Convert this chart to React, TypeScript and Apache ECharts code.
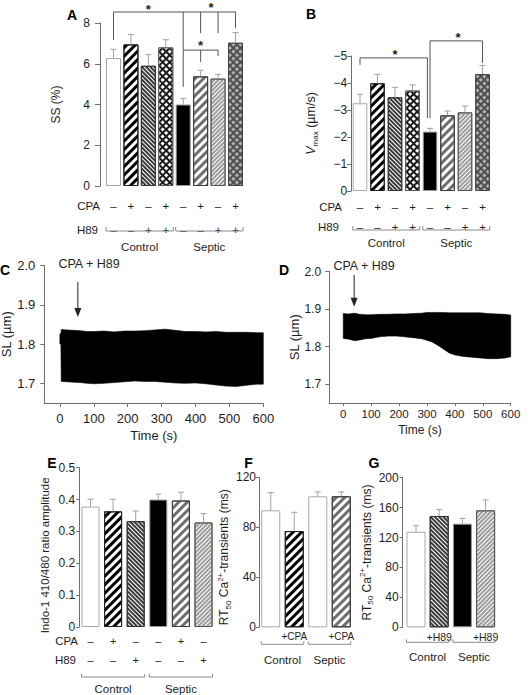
import React, { useEffect, useRef } from "react";
import * as echarts from "echarts";

const FONT = '"Liberation Sans", Arial, Helvetica, sans-serif';
const AXIS_C = "#6e6e6e";
const TEXT_C = "#1e1e1e";
const ERR_C = "#a0a0a0";
const SIG_C = "#555555";

// ================= DATA =================
const barIdsAB = ["Ctl", "Ctl+CPA", "Ctl+H89", "Ctl+CPA+H89", "Sep", "Sep+CPA", "Sep+H89", "Sep+CPA+H89"];
const cpaRowAB = ["–", "+", "–", "+", "–", "+", "–", "+"];
const h89RowAB = ["–", "–", "+", "+", "–", "–", "+", "+"];
const groupLabels = ["Control", "Septic"];
const ssMean = [6.28, 6.95, 5.9, 6.8, 4.0, 5.38, 5.27, 7.03];
const ssSem = [0.43, 0.48, 0.55, 0.38, 0.3, 0.3, 0.21, 0.5];
const vmaxMean = [-3.25, -3.99, -3.47, -3.72, -2.2, -2.8, -2.91, -4.33];
const vmaxSem = [0.33, 0.33, 0.37, 0.21, 0.12, 0.16, 0.24, 0.32];

const sigLinesA = [
  [[0, 7.17], [0, 8.54], [4, 8.54], [4, 4.86]],
  [[4, 8.54], [7, 8.54], [7, 7.75]],
  [[5, 8.54], [5, 7.5]],
  [[6, 8.54], [6, 7.5]],
  [[4, 6.67], [6, 6.67], [6, 6.38]],
  [[5, 6.67], [5, 6.08]],
];
const sigStarsA = [[2, 8.64], [5.6, 8.74], [5, 6.92]];
const sigLinesB = [
  [[0, -4.67], [0, -4.93], [3.85, -4.93], [3.85, -2.7]],
  [[4, -2.7], [4, -5.56], [7, -5.56], [7, -4.74]],
];
const sigStarsB = [[2, -5.04], [5.6, -5.67]];

const barIdsE = ["Ctl", "Ctl+CPA", "Ctl+H89", "Sep", "Sep+CPA", "Sep+H89"];
const cpaRowE = ["–", "+", "–", "–", "+", "–"];
const h89RowE = ["–", "–", "+", "–", "–", "+"];
const indoMean = [0.378, 0.363, 0.332, 0.4, 0.397, 0.328];
const indoSem = [0.023, 0.038, 0.032, 0.017, 0.026, 0.028];

const barIdsF = ["Ctl", "Ctl+CPA", "Sep", "Sep+CPA"];
const rowF = ["", "+CPA", "", "+CPA"];
const rt50CpaMean = [93.6, 77, 104.8, 104.8];
const rt50CpaSem = [14.1, 15, 3.5, 3.5];

const barIdsG = ["Ctl", "Ctl+H89", "Sep", "Sep+H89"];
const rowG = ["", "+H89", "", "+H89"];
const rt50H89Mean = [127.8, 148.8, 138.5, 156.3];
const rt50H89Sem = [8.1, 8.9, 7.2, 13.9];

const timeC = [0, 3, 4, 20, 40, 60, 80, 100, 130, 160, 190, 220, 250, 280, 310, 340, 370, 400, 430, 460, 490, 520, 550, 580, 600];
const upperC = [1.826, 1.826, 1.837, 1.836, 1.835, 1.834, 1.832, 1.832, 1.833, 1.831, 1.833, 1.833, 1.834, 1.836, 1.838, 1.835, 1.832, 1.832, 1.831, 1.832, 1.83, 1.83, 1.83, 1.829, 1.829];
const lowerC = [1.8, 1.8, 1.705, 1.704, 1.703, 1.702, 1.7, 1.699, 1.7, 1.702, 1.704, 1.706, 1.705, 1.705, 1.703, 1.701, 1.7, 1.701, 1.699, 1.696, 1.693, 1.692, 1.695, 1.698, 1.698];
const timeD = [0, 20, 40, 60, 80, 100, 130, 160, 190, 220, 250, 280, 300, 320, 340, 360, 380, 400, 430, 460, 490, 520, 550, 580, 600];
const upperD = [1.888, 1.887, 1.889, 1.886, 1.885, 1.885, 1.886, 1.886, 1.887, 1.887, 1.888, 1.889, 1.891, 1.891, 1.891, 1.891, 1.89, 1.89, 1.89, 1.89, 1.89, 1.888, 1.887, 1.886, 1.884];
const lowerD = [1.822, 1.82, 1.816, 1.818, 1.821, 1.822, 1.826, 1.828, 1.828, 1.826, 1.824, 1.821, 1.817, 1.812, 1.803, 1.793, 1.783, 1.778, 1.774, 1.772, 1.77, 1.768, 1.768, 1.77, 1.773];
const timeTicks = [0, 100, 200, 300, 400, 500, 600];
const slTicks = [1.7, 1.8, 1.9, 2.0];
const arrowC = [53, 1.958, 1.869];
const arrowD = [39, 1.991, 1.906];

// ================= STYLES =================
const stripe = (color: string, w: number, gap: number, rot: number) => ({
  symbol: "rect", symbolSize: 1, dashArrayX: [1, 0], dashArrayY: [w, gap], rotation: rot, color,
});
const lattice = (color: string) => ({
  symbol: "rect", symbolSize: 1, dashArrayX: [3, 1.3], dashArrayY: [3, 1.3], rotation: Math.PI / 4, color,
});
function fillStyle(name: string): any {
  switch (name) {
    case "white": return { color: "#ffffff", borderColor: "#a8a8a8", borderWidth: 1 };
    case "stripeBlack": return { color: "#ffffff", borderColor: "#222", borderWidth: 1, decal: stripe("#000000", 2.4, 2.6, -Math.PI / 4) };
    case "hatchDark": return { color: "#ffffff", borderColor: "#333", borderWidth: 1, decal: stripe("#3a3a3a", 1.2, 1, Math.PI / 4) };
    case "latticeBlack": return { color: "#1a1a1a", borderColor: "#555", borderWidth: 1, decal: lattice("#ffffff") };
    case "black": return { color: "#000000", borderColor: "#9a9a9a", borderWidth: 1 };
    case "stripeGray": return { color: "#ffffff", borderColor: "#3a3a3a", borderWidth: 1, decal: stripe("#6e6e6e", 2.4, 2.2, -Math.PI / 4) };
    case "hatchLight": return { color: "#ffffff", borderColor: "#555", borderWidth: 1, decal: stripe("#9c9c9c", 1.2, 1, -Math.PI / 4) };
    case "latticeGray": return { color: "#505050", borderColor: "#444", borderWidth: 1, decal: lattice("#b0b0b0") };
  }
  return {};
}
const fillsAB = ["white", "stripeBlack", "hatchDark", "latticeBlack", "black", "stripeGray", "hatchLight", "latticeGray"];
const fillsE = ["white", "stripeBlack", "hatchDark", "black", "stripeGray", "hatchLight"];
const fillsF = ["white", "stripeBlack", "white", "stripeGray"];
const fillsG = ["white", "hatchDark", "black", "hatchLight"];

const textStyle = (text: string, size: number, align = "center", extra: any = {}) => ({
  text, fill: TEXT_C, fontSize: size, fontFamily: FONT,
  align, textAlign: align, verticalAlign: "middle", textVerticalAlign: "middle", ...extra,
});

function coordAt(api: any, x: number, y: number) {
  const f = Math.floor(x), c = Math.ceil(x);
  const a = api.coord([f, y]);
  if (f === c) return a;
  const b = api.coord([c, y]);
  const t = x - f;
  return [a[0] + (b[0] - a[0]) * t, a[1] + (b[1] - a[1]) * t];
}

// ================= BUILDERS =================
function addBarPanel(opt: any, p: any) {
  const gi = opt.grid.length;
  opt.grid.push({ ...p.grid, containLabel: false, outerBoundsMode: "none" });
  const xi = opt.xAxis.length;
  p.rows.forEach((r: any) => {
    opt.xAxis.push({
      gridIndex: gi, type: "category", data: p.ids, position: "bottom", offset: r.offset,
      axisLine: { show: false, onZero: false }, axisTick: { show: false }, splitLine: { show: false },
      axisLabel: {
        interval: 0, margin: r.margin, fontSize: r.fontSize, fontFamily: FONT, color: TEXT_C,
        formatter: (_v: any, i: number) => r.labels[i],
      },
    });
  });
  const yi = opt.yAxis.length;
  const y = p.y;
  opt.yAxis.push({
    gridIndex: gi, type: "value", min: y.min, max: y.max, interval: y.interval, inverse: !!y.inverse,
    offset: y.offset || 0,
    axisLine: { show: true, onZero: false, lineStyle: { color: AXIS_C, width: 1 } },
    axisTick: { show: true, length: y.tickLen, lineStyle: { color: AXIS_C } },
    axisLabel: { margin: y.labelMargin, fontSize: y.fontSize, fontFamily: FONT, color: TEXT_C, formatter: y.fmt },
    splitLine: { show: false },
    name: y.name, nameLocation: "middle", nameGap: y.nameGap,
    nameTextStyle: { fontSize: y.nameFont, fontFamily: FONT, color: TEXT_C, rich: y.rich, padding: y.namePad || 0 },
  });
  opt.series.push({
    type: "bar", xAxisIndex: xi, yAxisIndex: yi, barWidth: p.barW, silent: true, z: 2,
    data: p.means.map((m: number, i: number) => ({ value: m, itemStyle: fillStyle(p.fills[i]) })),
  });
  opt.series.push({
    type: "custom", xAxisIndex: xi, yAxisIndex: yi, silent: true, clip: false, z: 3,
    data: p.means.map((m: number, i: number) => [i, m, m < 0 ? m - p.sems[i] : m + p.sems[i]]),
    encode: { x: 0, y: [1, 2] },
    renderItem: (_params: any, api: any) => {
      const i = api.value(0);
      const a = api.coord([i, api.value(1)]);
      const b = api.coord([i, api.value(2)]);
      return {
        type: "group", children: [
          { type: "line", shape: { x1: a[0], y1: a[1], x2: b[0], y2: b[1] }, style: { stroke: ERR_C, lineWidth: 1 } },
          { type: "line", shape: { x1: b[0] - p.capW, y1: b[1], x2: b[0] + p.capW, y2: b[1] }, style: { stroke: ERR_C, lineWidth: 1 } },
        ],
      };
    },
  });
  opt.series.push({
    type: "custom", xAxisIndex: xi, yAxisIndex: yi, silent: true, clip: false, z: 3,
    data: p.groups.map((g: any) => [g.from, 0]),
    renderItem: (params: any, api: any) => {
      const g = p.groups[params.dataIndex];
      const a = api.coord([g.from, 0]);
      const b = api.coord([g.to, 0]);
      const x1 = a[0] - p.barW / 2, x2 = b[0] + p.barW / 2, yy = a[1] + p.groupDy;
      return {
        type: "group", children: [
          { type: "polyline", shape: { points: [[x1, yy - p.groupTick], [x1, yy], [x2, yy], [x2, yy - p.groupTick]] }, style: { stroke: "#8a8a8a", fill: null, lineWidth: 1 } },
          { type: "text", x: (x1 + x2) / 2, y: yy + p.groupLabelDy, style: textStyle(groupLabels[params.dataIndex], p.groupFont) },
        ],
      };
    },
  });
  if (p.sig) {
    const items: any[] = [
      ...p.sig.lines.map((l: number[][]) => ({ kind: "line", pts: l })),
      ...p.sig.stars.map((s: number[]) => ({ kind: "star", pts: [s] })),
    ];
    opt.series.push({
      type: "custom", xAxisIndex: xi, yAxisIndex: yi, silent: true, clip: false, z: 4,
      data: items.map((it) => [Math.round(it.pts[0][0]), it.pts[0][1]]),
      renderItem: (params: any, api: any) => {
        const it = items[params.dataIndex];
        if (it.kind === "line") {
          const pts = it.pts.map((q: number[]) => coordAt(api, q[0], q[1]));
          return { type: "polyline", shape: { points: pts }, style: { stroke: SIG_C, fill: null, lineWidth: 1 } };
        }
        const q = coordAt(api, it.pts[0][0], it.pts[0][1]);
        return { type: "text", x: q[0], y: q[1], style: textStyle("*", 13, "center", { fontWeight: "bold" }) };
      },
    });
  }
}

function addTracePanel(opt: any, p: any) {
  const gi = opt.grid.length;
  opt.grid.push({ ...p.grid, containLabel: false, outerBoundsMode: "none" });
  const xi = opt.xAxis.length;
  opt.xAxis.push({
    gridIndex: gi, type: "value", min: p.xMin, max: 600,
    axisLine: { show: true, onZero: false, lineStyle: { color: AXIS_C } },
    axisTick: { show: true, length: p.xTick, customValues: timeTicks, lineStyle: { color: AXIS_C } },
    axisLabel: { customValues: timeTicks, fontSize: p.xFont, margin: p.xMargin, fontFamily: FONT, color: TEXT_C },
    splitLine: { show: false },
    name: "Time (s)", nameLocation: "middle", nameGap: p.xNameGap,
    nameTextStyle: { fontSize: p.xNameFont, fontFamily: FONT, color: TEXT_C },
  });
  const yi = opt.yAxis.length;
  opt.yAxis.push({
    gridIndex: gi, type: "value", min: 1.65, max: 2.0,
    axisLine: { show: true, onZero: false, lineStyle: { color: AXIS_C } },
    axisTick: { show: true, length: 4, customValues: slTicks, lineStyle: { color: AXIS_C } },
    axisLabel: { customValues: slTicks, fontSize: p.yFont, margin: p.yMargin, fontFamily: FONT, color: TEXT_C, formatter: (v: number) => v.toFixed(1) },
    splitLine: { show: false },
    name: "SL (µm)", nameLocation: "middle", nameGap: p.yNameGap,
    nameTextStyle: { fontSize: p.yNameFont, fontFamily: FONT, color: TEXT_C },
  });
  opt.series.push({
    type: "custom", xAxisIndex: xi, yAxisIndex: yi, silent: true, clip: true, z: 2,
    data: p.time.map((t: number, i: number) => [t, p.lower[i], p.upper[i]]),
    encode: { x: 0, y: [1, 2] },
    renderItem: (params: any, api: any) => {
      if (params.dataIndex !== 0) return null;
      const top = p.time.map((t: number, i: number) => api.coord([t, p.upper[i]]));
      const bot = p.time.map((t: number, i: number) => api.coord([t, p.lower[i]])).reverse();
      return { type: "polygon", shape: { points: top.concat(bot) }, style: { fill: "#000", stroke: "#000", lineWidth: 0.6 } };
    },
  });
  opt.series.push({
    type: "custom", xAxisIndex: xi, yAxisIndex: yi, silent: true, clip: false, z: 3,
    data: [p.arrow],
    renderItem: (_params: any, api: any) => {
      const a = api.coord([api.value(0), api.value(1)]);
      const b = api.coord([api.value(0), api.value(2)]);
      return {
        type: "group", children: [
          { type: "line", shape: { x1: a[0], y1: a[1], x2: b[0], y2: b[1] - 7 }, style: { stroke: "#222", lineWidth: 1 } },
          { type: "polygon", shape: { points: [[b[0] - 3.5, b[1] - 9], [b[0] + 3.5, b[1] - 9], [b[0], b[1]]] }, style: { fill: "#222" } },
        ],
      };
    },
  });
}

const ymaxRich = {
  it: { fontStyle: "italic", fontSize: 12.5, fontFamily: FONT, color: TEXT_C },
  sub: { fontSize: 8, fontFamily: FONT, color: TEXT_C, verticalAlign: "bottom", lineHeight: 16 },
};
const rtRich = {
  sub: { fontSize: 8, fontFamily: FONT, color: TEXT_C, verticalAlign: "bottom", lineHeight: 16 },
  sup: { fontSize: 8, fontFamily: FONT, color: TEXT_C, verticalAlign: "top", lineHeight: 16 },
};

function buildOption() {
  const opt: any = {
    animation: false, backgroundColor: "#ffffff", textStyle: { fontFamily: FONT },
    grid: [], xAxis: [], yAxis: [], series: [], graphic: [],
  };
  const groupsAB = [{ from: 0, to: 3 }, { from: 4, to: 7 }];
  addBarPanel(opt, {
    grid: { left: 104.8, top: 23, width: 139.4, height: 163 }, ids: barIdsAB,
    rows: [{ labels: cpaRowAB, offset: 0, margin: 14, fontSize: 11.5 }, { labels: h89RowAB, offset: 24, margin: 14, fontSize: 11.5 }],
    y: { min: 0, max: 8, interval: 2, offset: 4.8, tickLen: 5, labelMargin: 10, fontSize: 12, name: "SS (%)", nameGap: 38, nameFont: 12 },
    means: ssMean, sems: ssSem, fills: fillsAB, barW: 15, capW: 3,
    groups: groupsAB, groupDy: 45, groupTick: 4, groupLabelDy: 16, groupFont: 11.5,
    sig: { lines: sigLinesA, stars: sigStarsA },
  });
  addBarPanel(opt, {
    grid: { left: 351.25, top: 56, width: 140, height: 135 }, ids: barIdsAB,
    rows: [{ labels: cpaRowAB, offset: 0, margin: 10, fontSize: 11.5 }, { labels: h89RowAB, offset: 20, margin: 10, fontSize: 11.5 }],
    y: {
      min: -5, max: 0, interval: 1, inverse: true, tickLen: 4, labelMargin: 4, fontSize: 12,
      fmt: (v: number) => (v === 0 ? "0" : "\u2212" + Math.abs(v)),
      name: "{it|V}{sub|max} (µm/s)", nameGap: 32, nameFont: 12.5, rich: ymaxRich,
    },
    means: vmaxMean, sems: vmaxSem, fills: fillsAB, barW: 14.5, capW: 3,
    groups: groupsAB, groupDy: 39, groupTick: 4, groupLabelDy: 13, groupFont: 11.5,
    sig: { lines: sigLinesB, stars: sigStarsB },
  });
  addTracePanel(opt, {
    grid: { left: 44.3, top: 265.5, width: 219, height: 137.5 }, xMin: -46,
    xTick: 4, xFont: 13, xMargin: 9, xNameGap: 26, xNameFont: 13,
    yFont: 13, yMargin: 9, yNameGap: 26, yNameFont: 13,
    time: timeC, upper: upperC, lower: lowerC, arrow: arrowC,
  });
  addTracePanel(opt, {
    grid: { left: 329.3, top: 271.5, width: 181.4, height: 131.5 }, xMin: -50,
    xTick: 3, xFont: 11.5, xMargin: 5, xNameGap: 21, xNameFont: 12,
    yFont: 12, yMargin: 8, yNameGap: 24, yNameFont: 13,
    time: timeD, upper: upperD, lower: lowerD, arrow: arrowD,
  });
  addBarPanel(opt, {
    grid: { left: 79.2, top: 467.7, width: 135.6, height: 159.3 }, ids: barIdsE,
    rows: [{ labels: cpaRowE, offset: 0, margin: 8, fontSize: 11 }, { labels: h89RowE, offset: 19, margin: 8, fontSize: 11 }],
    y: { min: 0, max: 0.5, interval: 0.1, tickLen: 3, labelMargin: 4, fontSize: 12, name: "Indo-1 410/480 ratio amplitude", nameGap: 28, nameFont: 11.5, namePad: [0, 16, 0, 0] },
    means: indoMean, sems: indoSem, fills: fillsE, barW: 18, capW: 3,
    groups: [{ from: 0, to: 2 }, { from: 3, to: 5 }], groupDy: 50, groupTick: 3, groupLabelDy: 12, groupFont: 11.5,
  });
  addBarPanel(opt, {
    grid: { left: 259, top: 477.3, width: 94, height: 150 }, ids: barIdsF,
    rows: [{ labels: rowF, offset: 0, margin: 4, fontSize: 10 }],
    y: { min: 0, max: 120, interval: 40, tickLen: 3, labelMargin: 3, fontSize: 12, name: "RT{sub|50} Ca{sup|2+}-transients (ms)", nameGap: 16, nameFont: 12, rich: rtRich, namePad: [0, 10, 0, 0] },
    means: rt50CpaMean, sems: rt50CpaSem, fills: fillsF, barW: 19, capW: 3,
    groups: [{ from: 0, to: 1 }, { from: 2, to: 3 }], groupDy: 17, groupTick: 3, groupLabelDy: 16, groupFont: 11.5,
  });
  addBarPanel(opt, {
    grid: { left: 404.4, top: 477.7, width: 92.8, height: 149.6 }, ids: barIdsG,
    rows: [{ labels: rowG, offset: 0, margin: 4, fontSize: 10.5 }],
    y: { min: 0, max: 200, interval: 40, offset: 1.7, tickLen: 3, labelMargin: 4, fontSize: 12, name: "RT{sub|50} Ca{sup|2+}-transients (ms)", nameGap: 24, nameFont: 12, rich: rtRich },
    means: rt50H89Mean, sems: rt50H89Sem, fills: fillsG, barW: 19, capW: 3,
    groups: [{ from: 0, to: 1 }, { from: 2, to: 3 }], groupDy: 15, groupTick: 3, groupLabelDy: 15, groupFont: 11.5,
  });

  const letters: [string, number, number][] = [
    ["A", 72, 15], ["B", 311, 14], ["C", 5, 270], ["D", 284, 270], ["E", 52, 463], ["F", 248.5, 463], ["G", 374, 463],
  ];
  letters.forEach(([t, x, y]) => opt.graphic.push({ type: "text", x, y, style: textStyle(t, 14, "center", { fontWeight: "bold", fill: "#000" }) }));
  const rowNames: [string, number, number][] = [
    ["CPA", 100, 206], ["H89", 98, 230], ["CPA", 342, 207], ["H89", 339, 227], ["CPA", 78, 641], ["H89", 76, 660],
  ];
  rowNames.forEach(([t, x, y]) => opt.graphic.push({ type: "text", x, y, style: textStyle(t, 11.5, "right") }));
  opt.graphic.push({ type: "text", x: 89, y: 264, style: textStyle("CPA + H89", 12.5) });
  opt.graphic.push({ type: "text", x: 364, y: 266, style: textStyle("CPA + H89", 12.5) });
  return opt;
}

export default function App() {
  const ref = useRef<HTMLDivElement>(null);
  useEffect(() => {
    if (!ref.current) return;
    const chart = echarts.init(ref.current, undefined, { renderer: "svg" });
    chart.setOption(buildOption());
    return () => chart.dispose();
  }, []);
  return <div ref={ref} style={{ position: "fixed", left: 0, top: 0, width: 529, height: 695, background: "#fff" }} />;
}
